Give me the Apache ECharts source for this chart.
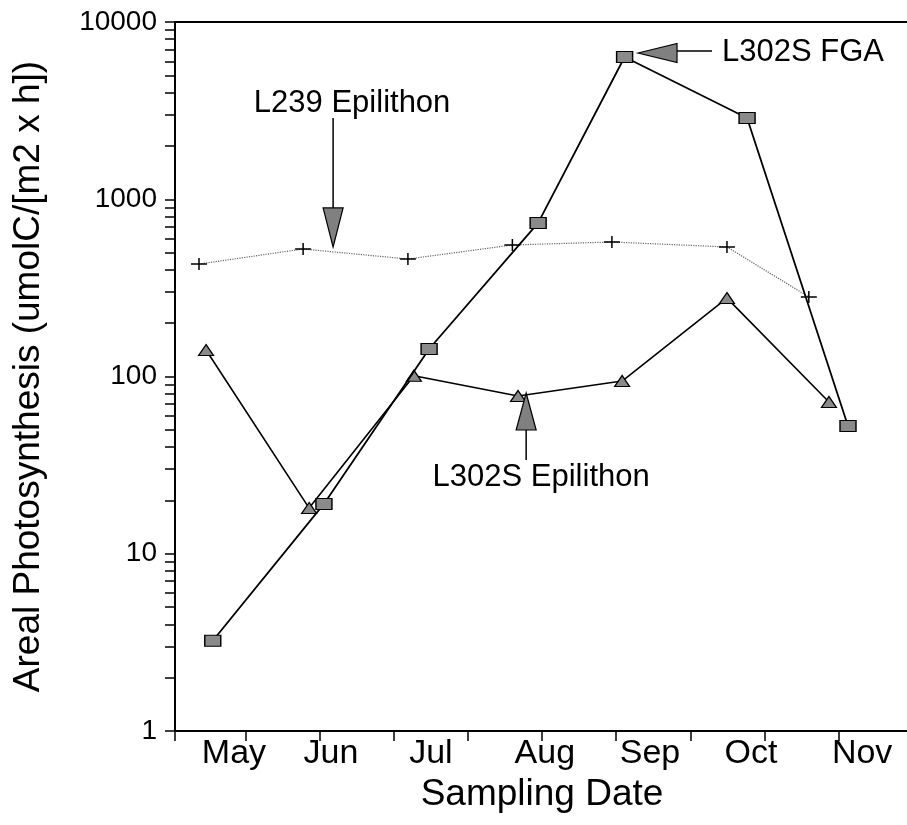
<!DOCTYPE html>
<html>
<head>
<meta charset="utf-8">
<script src="https://cdn.jsdelivr.net/npm/echarts@6/dist/echarts.min.js"></script>
<style>
  html, body { margin: 0; padding: 0; background: #fff; }
  #chart { width: 907px; height: 825px; }
</style>
</head>
<body>
<div id="chart"></div>
<script>
// Sampling position along the season, in days from the start of the axis
const fgaDays       = [10.7, 42.2, 72.0, 102.9, 127.4, 162.1, 190.7];
const fgaValues     = [3.23, 19.1, 143, 735, 6346, 2873, 52.6];

const l302EpiDays   = [8.8, 38.0, 67.7, 97.2, 126.7, 156.4, 185.3];
const l302EpiValues = [141, 18.1, 101, 77.6, 94.3, 277, 71.8];

const l239EpiDays   = [6.8, 36.3, 66.0, 95.6, 123.8, 156.4, 179.6];
const l239EpiValues = [431, 524, 460, 552, 574, 538, 281];

// Axis ticks and labels
const monthNames    = ['May', 'Jun', 'Jul', 'Aug', 'Sep', 'Oct', 'Nov'];
const monthLabelDay = [16.7, 44.2, 72.5, 104.8, 134.6, 163.2, 194.7];
const xTickDays     = [0, 20, 41, 62, 83, 104, 125, 146, 167, 188];
const yLabelValues  = [1, 10, 100, 1000, 10000];

// Callout arrows: the point each arrow tip sits on, in data units
const callouts = [
  { text: 'L239 Epilithon',  tip: [44.8, 538],  dir: 'down' },
  { text: 'L302S FGA',       tip: [131.2, 6683], dir: 'left' },
  { text: 'L302S Epilithon', tip: [99.5, 80.7], dir: 'up' }
];

// minor + major ticks for every decade of the log axis
const yTickValues = [];
for (let d = 1; d < 10000; d *= 10) {
  for (let m = 1; m < 10; m++) yTickValues.push(m * d);
}
yTickValues.push(10000);

const pairs = (xs, ys) => xs.map((x, i) => [x, ys[i]]);

const FONT = '"Liberation Sans", Arial, Helvetica, sans-serif';
const GRAY = '#8a8a8a';

const chart = echarts.init(document.getElementById('chart'), null, { renderer: 'canvas' });

chart.setOption({
  animation: false,
  backgroundColor: '#fff',
  grid: {
    left: 175, right: -25, top: 22, bottom: 94,
    outerBoundsMode: 'none',
    containLabel: false,
    show: true, borderColor: '#000', borderWidth: 2, backgroundColor: 'transparent'
  },
  xAxis: {
    type: 'value',
    min: 0, max: 214.5,
    name: 'Sampling Date',
    nameLocation: 'middle',
    nameGap: 42,
    nameTextStyle: { fontFamily: FONT, fontSize: 37, color: '#000', padding: [0, 23, 0, 0] },
    axisLine: { show: true, lineStyle: { color: '#000', width: 2 } },
    axisTick: { show: true, inside: false, length: 10, customValues: xTickDays,
                lineStyle: { color: '#000', width: 1.5 } },
    axisLabel: {
      show: true, customValues: monthLabelDay, margin: 6,
      fontFamily: FONT, fontSize: 34, color: '#000',
      formatter: function (v) {
        let best = 0;
        monthLabelDay.forEach((d, i) => { if (Math.abs(d - v) < Math.abs(monthLabelDay[best] - v)) best = i; });
        return monthNames[best];
      }
    },
    splitLine: { show: false }
  },
  yAxis: {
    type: 'log',
    logBase: 10,
    min: 1, max: 10000,
    name: 'Areal Photosynthesis (umolC/[m2 x h])',
    nameLocation: 'middle',
    nameGap: 128,
    nameRotate: 90,
    nameTextStyle: { fontFamily: FONT, fontSize: 37, color: '#000' },
    axisLine: { show: true, lineStyle: { color: '#000', width: 2 } },
    axisTick: { show: true, inside: false, length: 10, customValues: yTickValues,
                lineStyle: { color: '#000', width: 1.5 } },
    axisLabel: {
      show: true, customValues: yLabelValues, margin: 18,
      fontFamily: FONT, fontSize: 28, color: '#000',
      formatter: v => String(Math.round(v))
    },
    splitLine: { show: false },
    minorTick: { show: false }
  },
  series: [
    {
      name: 'L239 Epilithon',
      type: 'line',
      data: pairs(l239EpiDays, l239EpiValues),
      symbol: 'path://M0,5.25H16V6.75H0Z M7.25,0H8.75V12H7.25Z',
      symbolSize: [16, 12],
      itemStyle: { color: '#000', borderWidth: 0 },
      lineStyle: { color: '#666', width: 1.2, type: 'dotted' },
      z: 2
    },
    {
      name: 'L302S Epilithon',
      type: 'line',
      data: pairs(l302EpiDays, l302EpiValues),
      symbol: 'triangle',
      symbolSize: [15, 11],
      itemStyle: { color: GRAY, borderColor: '#000', borderWidth: 1.2 },
      lineStyle: { color: '#000', width: 1.6 },
      z: 3
    },
    {
      name: 'L302S FGA',
      type: 'line',
      data: pairs(fgaDays, fgaValues),
      symbol: 'rect',
      symbolSize: [16, 11],
      itemStyle: { color: GRAY, borderColor: '#000', borderWidth: 1.2 },
      lineStyle: { color: '#000', width: 1.8 },
      z: 4
    }
  ]
});

// Arrow callouts, anchored to data coordinates
function calloutGraphics() {
  const els = [];
  const arrowStyle = { fill: '#808080', stroke: '#000', lineWidth: 1.2 };
  const stemStyle = { stroke: '#000', lineWidth: 1.5 };
  const textStyle = (x, y, text, align) => ({
    type: 'text', x: x, y: y, z: 20,
    style: { text: text, fontFamily: FONT, fontSize: 31, fill: '#000', align: align, verticalAlign: 'middle' }
  });
  callouts.forEach(c => {
    const p = chart.convertToPixel({ gridIndex: 0 }, c.tip);
    const tx = p[0], ty = p[1];
    if (c.dir === 'down') {
      els.push({ type: 'line', z: 19, shape: { x1: tx, y1: ty - 129, x2: tx, y2: ty - 39 }, style: stemStyle });
      els.push({ type: 'polygon', z: 20, shape: { points: [[tx - 10, ty - 39], [tx + 10, ty - 39], [tx, ty]] }, style: arrowStyle });
      els.push(textStyle(tx + 19, ty - 144, c.text, 'center'));
    } else if (c.dir === 'left') {
      els.push({ type: 'line', z: 19, shape: { x1: tx + 39, y1: ty - 2, x2: tx + 74, y2: ty - 2 }, style: stemStyle });
      els.push({ type: 'polygon', z: 20, shape: { points: [[tx, ty], [tx + 39, ty - 9.5], [tx + 39, ty + 9.5]] }, style: arrowStyle });
      els.push(textStyle(tx + 84, ty - 1, c.text, 'left'));
    } else {
      els.push({ type: 'line', z: 19, shape: { x1: tx, y1: ty + 37, x2: tx, y2: ty + 67 }, style: stemStyle });
      els.push({ type: 'polygon', z: 20, shape: { points: [[tx, ty], [tx + 10, ty + 37], [tx - 10, ty + 37]] }, style: arrowStyle });
      els.push(textStyle(tx + 15, ty + 84, c.text, 'center'));
    }
  });
  return els;
}

chart.setOption({ graphic: calloutGraphics() });
</script>
</body>
</html>
